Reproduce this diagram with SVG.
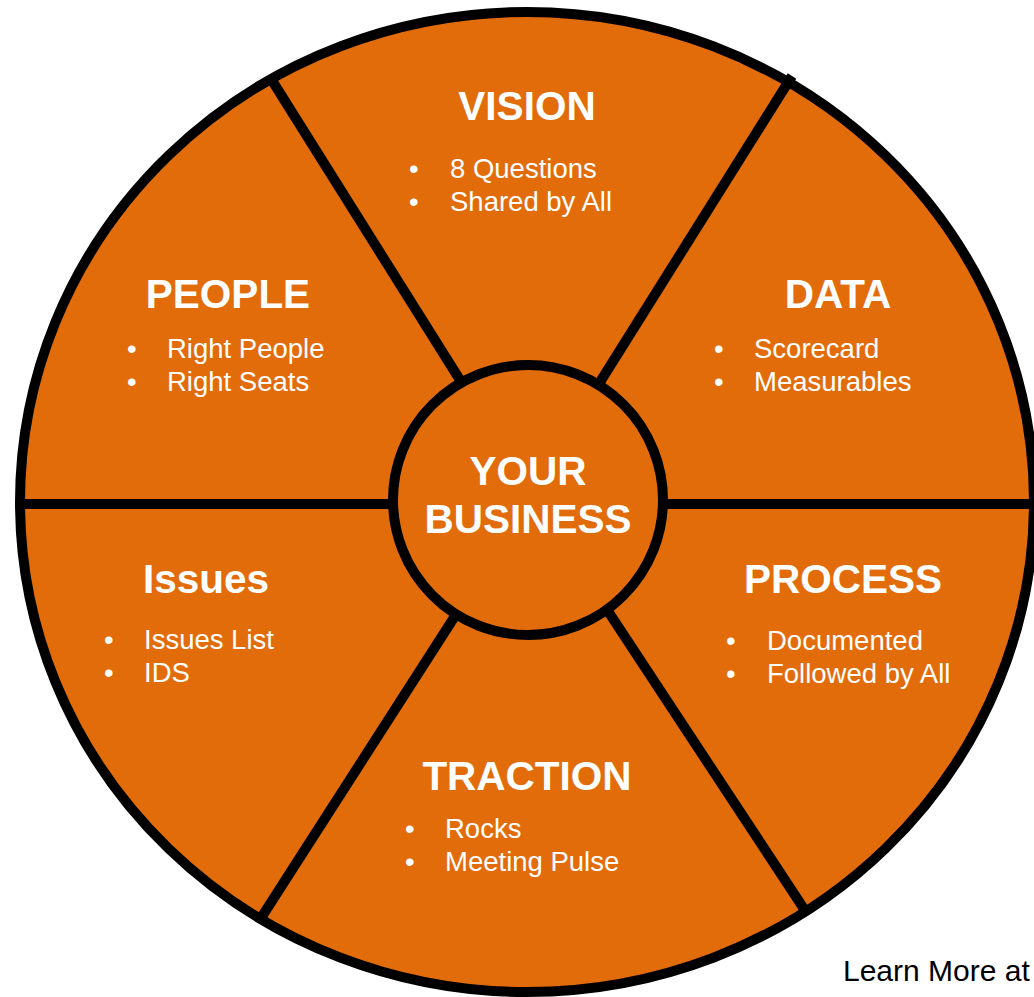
<svg xmlns="http://www.w3.org/2000/svg" width="1034" height="997" viewBox="0 0 1034 997">
<style>
.seg{fill:#E36C0A;stroke:#000;stroke-width:10}
.spoke{stroke:#000;stroke-width:10;stroke-linecap:butt}
.title{font-family:"Liberation Sans",Arial,sans-serif;font-weight:bold;font-size:40.5px;fill:#fff;text-anchor:middle}
.item{font-family:"Liberation Sans",Arial,sans-serif;font-size:27.5px;fill:#fff}
.note{font-family:"Liberation Sans",Arial,sans-serif;font-size:30px;fill:#000}
</style>
<rect width="1034" height="997" fill="#fff"/>
<g id="wheel">
<ellipse class="seg" cx="527" cy="502" rx="507" ry="490"/>
</g>
<g id="connectors">
<line class="spoke" x1="273" y1="82" x2="470" y2="396"/>
<line class="spoke" x1="792" y1="76" x2="590" y2="398"/>
<line class="spoke" x1="261" y1="918" x2="464" y2="602"/>
<line class="spoke" x1="806" y1="912" x2="598" y2="596"/>
<line class="spoke" x1="18" y1="504" x2="400" y2="504"/>
<line class="spoke" x1="660" y1="504" x2="1034" y2="504"/>
</g>
<g id="center">
<circle class="seg" cx="528" cy="500" r="135"/>
<text class="title" x="528" y="485" font-size="42">YOUR</text>
<text class="title" x="528" y="533" font-size="42">BUSINESS</text>
</g>
<g id="vision">
<text class="title" x="527" y="120">VISION</text>
<text class="item" x="409" y="178">•</text><text class="item" x="450" y="178">8 Questions</text>
<text class="item" x="409" y="211">•</text><text class="item" x="450" y="211">Shared by All</text>
</g>
<g id="people">
<text class="title" x="228" y="308">PEOPLE</text>
<text class="item" x="127" y="358">•</text><text class="item" x="167" y="358">Right People</text>
<text class="item" x="127" y="391">•</text><text class="item" x="167" y="391">Right Seats</text>
</g>
<g id="data">
<text class="title" x="838" y="308">DATA</text>
<text class="item" x="714" y="358">•</text><text class="item" x="754" y="358">Scorecard</text>
<text class="item" x="714" y="391">•</text><text class="item" x="754" y="391">Measurables</text>
</g>
<g id="issues">
<text class="title" x="206" y="593">Issues</text>
<text class="item" x="104" y="649">•</text><text class="item" x="144" y="649">Issues List</text>
<text class="item" x="104" y="682">•</text><text class="item" x="144" y="682">IDS</text>
</g>
<g id="process">
<text class="title" x="843" y="593">PROCESS</text>
<text class="item" x="726" y="650">•</text><text class="item" x="767" y="650">Documented</text>
<text class="item" x="726" y="683">•</text><text class="item" x="767" y="683">Followed by All</text>
</g>
<g id="traction">
<text class="title" x="527" y="790">TRACTION</text>
<text class="item" x="405" y="838">•</text><text class="item" x="445" y="838">Rocks</text>
<text class="item" x="405" y="871">•</text><text class="item" x="445" y="871">Meeting Pulse</text>
</g>
<g id="footer">
<text class="note" x="843" y="981">Learn More at</text>
</g>
</svg>
